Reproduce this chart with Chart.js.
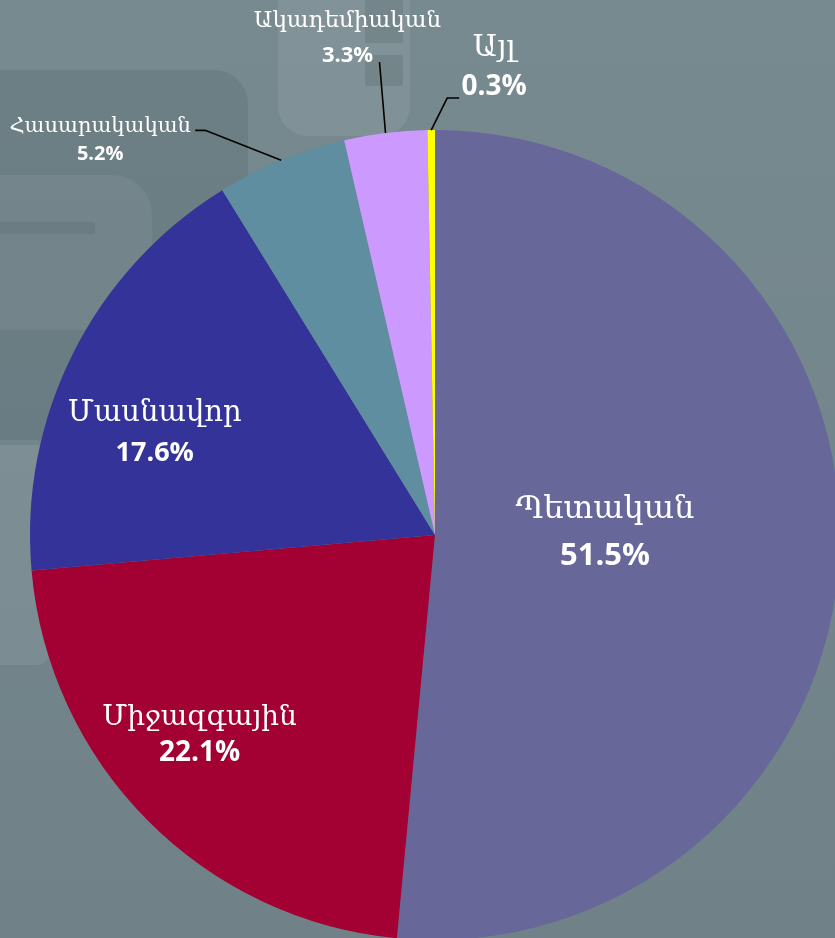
<!DOCTYPE html>
<html>
<head>
<meta charset="utf-8">
<script src="https://cdn.jsdelivr.net/npm/chart.js@4"></script>
<style>
  html, body { margin: 0; padding: 0; background: #768990; }
  #wrap { width: 835px; height: 938px; overflow: hidden; position: relative; }
  canvas { position: absolute; left: 0; top: 0; }
</style>
</head>
<body>
<div id="wrap"><canvas id="pieChart" width="870" height="1070"></canvas></div>
<script>
// Data
const categories = ['Պետական', 'Միջազգային', 'Մասնավոր', 'Հասարակական', 'Ակադեմիական', 'Այլ'];
const shares = [51.5, 22.1, 17.6, 5.2, 3.3, 0.3];
const sliceColors = ['#67679A', '#A30033', '#333399', '#5F8EA0', '#CC99FF', '#FFFF00'];

// Label placement (style only)
const labelStyle = [
    { inside: true, frac: 0.42, dx: 0, dy: -10, nameSize: 32, pctSize: 31, gap: 46 },
    { inside: true, frac: 0.75, dx: -20, dy: -14, nameSize: 28, pctSize: 28, gap: 35 },
    { inside: true, frac: 0.73, dx: -16, dy: 31, nameSize: 29, pctSize: 27, gap: 40 },
    { inside: false, text: [-181, -20], bend: [-76, -30], end: [-86, -30], nameSize: 21, pctSize: 20, gap: 28 },
    { inside: false, text: [-38, -95], bend: [-6, -71], end: [-6, -71], nameSize: 23, pctSize: 22, gap: 35 },
    { inside: false, text: [63, -62], bend: [16, -32], end: [28, -32], nameSize: 30, pctSize: 28, gap: 39 }
];

// Background with faint watermark shapes
const backgroundPlugin = {
    id: 'bg',
    beforeDraw(chart) {
        const ctx = chart.ctx;
        const w = chart.width, h = chart.height;
        ctx.save();
        const g = ctx.createLinearGradient(0, 0, 0, 938);
        g.addColorStop(0, '#778A90');
        g.addColorStop(1, '#708288');
        ctx.fillStyle = g;
        ctx.fillRect(0, 0, w, h);
        function rr(x, y, rw, rh, r, color) {
            ctx.fillStyle = color;
            ctx.beginPath();
            ctx.roundRect(x, y, rw, rh, r);
            ctx.fill();
        }
        rr(-30, 70, 278, 375, 34, 'rgba(40,60,66,0.12)');
        rr(278, -40, 132, 176, 30, 'rgba(255,255,255,0.08)');
        rr(365, -5, 38, 48, 2, 'rgba(40,60,66,0.14)');
        rr(365, 55, 38, 31, 2, 'rgba(40,60,66,0.14)');
        rr(-40, 175, 192, 155, 40, 'rgba(255,255,255,0.06)');
        rr(-10, 222, 105, 12, 0, 'rgba(40,60,66,0.10)');
        rr(-40, 440, 90, 225, 14, 'rgba(255,255,255,0.07)');
        ctx.restore();
    }
};

// Data labels
const labelPlugin = {
    id: 'sliceLabels',
    afterDatasetsDraw(chart) {
        const ctx = chart.ctx;
        const arcs = chart.getDatasetMeta(0).data;
        ctx.save();
        ctx.textAlign = 'center';
        ctx.textBaseline = 'middle';
        arcs.forEach((arc, i) => {
            const s = labelStyle[i];
            const p = arc.getProps(['x', 'y', 'startAngle', 'endAngle', 'outerRadius']);
            const mid = (p.startAngle + p.endAngle) / 2;
            let cx, cy;
            if (s.inside) {
                cx = p.x + Math.cos(mid) * p.outerRadius * s.frac + s.dx;
                cy = p.y + Math.sin(mid) * p.outerRadius * s.frac + s.dy;
            } else {
                const ex = p.x + Math.cos(mid) * p.outerRadius;
                const ey = p.y + Math.sin(mid) * p.outerRadius;
                ctx.strokeStyle = '#000';
                ctx.lineWidth = 1.6;
                ctx.beginPath();
                ctx.moveTo(ex, ey);
                ctx.lineTo(ex + s.bend[0], ey + s.bend[1]);
                ctx.lineTo(ex + s.end[0], ey + s.end[1]);
                ctx.stroke();
                cx = ex + s.text[0];
                cy = ey + s.text[1];
            }
            ctx.fillStyle = '#FFFFFF';
            ctx.font = s.nameSize + 'px "DejaVu Serif", serif';
            ctx.fillText(categories[i], cx, cy - s.gap / 2);
            ctx.font = 'bold ' + s.pctSize + 'px "Open Sans", "DejaVu Sans", sans-serif';
            ctx.fillText(shares[i].toFixed(1) + '%', cx, cy + s.gap / 2);
        });
        ctx.restore();
    }
};

const ctx = document.getElementById('pieChart').getContext('2d');
const pieChart = new Chart(ctx, {
    type: 'pie',
    data: {
        labels: categories,
        datasets: [{
            data: shares,
            backgroundColor: sliceColors,
            borderWidth: 0
        }]
    },
    options: {
        responsive: false,
        maintainAspectRatio: false,
        animation: false,
        layout: { padding: { left: 30, right: 30, top: 130, bottom: 130 } },
        plugins: {
            legend: { display: false },
            tooltip: { enabled: false }
        }
    },
    plugins: [backgroundPlugin, labelPlugin]
});
</script>
</body>
</html>
